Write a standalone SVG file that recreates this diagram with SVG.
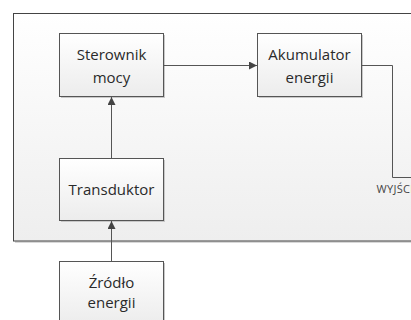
<svg xmlns="http://www.w3.org/2000/svg" width="411" height="320" viewBox="0 0 411 320">
<defs>
<linearGradient id="gFrame" x1="0" y1="0" x2="0" y2="1">
<stop offset="0" stop-color="#ffffff"/>
<stop offset="1" stop-color="#eeeeee"/>
</linearGradient>
<linearGradient id="gBox" x1="0" y1="0" x2="0" y2="1">
<stop offset="0" stop-color="#ffffff"/>
<stop offset="1" stop-color="#ececec"/>
</linearGradient>
<marker id="arr" viewBox="0 0 10 10" refX="10" refY="5" markerWidth="8" markerHeight="8" markerUnits="userSpaceOnUse" orient="auto">
<path d="M0,0 L10,5 L0,10 Z" fill="#444"/>
</marker>
<style>
.box{fill:url(#gBox);stroke:#555;stroke-width:1}
.shadow{fill:#c8c8c8}
.lbl{font-family:"Open Sans","Noto Sans",sans-serif;font-size:15px;fill:#2a2a2a;text-anchor:middle}
.con{fill:none;stroke:#555;stroke-width:1}
</style>
</defs>
<g id="frame">
<rect x="15" y="15" width="420" height="228" fill="#d8d8d8"/>
<rect x="13.5" y="13.5" width="420" height="227.5" fill="url(#gFrame)" stroke="#444" stroke-width="1"/>
</g>
<g id="sterownik">
<rect class="shadow" x="61" y="35" width="104" height="63"/>
<rect class="box" x="59.5" y="33.5" width="104" height="63"/>
<text class="lbl" x="111.5" y="60">Sterownik</text>
<text class="lbl" x="111.5" y="83">mocy</text>
</g>
<g id="akumulator">
<rect class="shadow" x="259" y="35" width="104" height="63"/>
<rect class="box" x="257.5" y="33.5" width="104" height="63"/>
<text class="lbl" x="309.5" y="60">Akumulator</text>
<text class="lbl" x="309.5" y="83">energii</text>
</g>
<g id="transduktor">
<rect class="shadow" x="61" y="160" width="104" height="62"/>
<rect class="box" x="59.5" y="158.5" width="104" height="62"/>
<text class="lbl" x="111.5" y="195">Transduktor</text>
</g>
<g id="zrodlo">
<rect class="shadow" x="61" y="263" width="104" height="63"/>
<rect class="box" x="59.5" y="261.5" width="104" height="63"/>
<text class="lbl" x="111.5" y="288">Źródło</text>
<text class="lbl" x="111.5" y="308">energii</text>
</g>
<g id="wyjscie">
<text x="376.5" y="192.5" font-family="'Open Sans','Noto Sans',sans-serif" font-size="11" letter-spacing="0.3" fill="#444">WYJŚCIE</text>
</g>
<g id="connectors">
<line class="con" x1="163.5" y1="65.5" x2="257" y2="65.5" marker-end="url(#arr)"/>
<polyline class="con" points="361.5,65.5 392.5,65.5 392.5,177.5 420,177.5"/>
<line class="con" x1="111.5" y1="158" x2="111.5" y2="97" marker-end="url(#arr)"/>
<line class="con" x1="111.5" y1="261" x2="111.5" y2="221" marker-end="url(#arr)"/>
</g>
</svg>
